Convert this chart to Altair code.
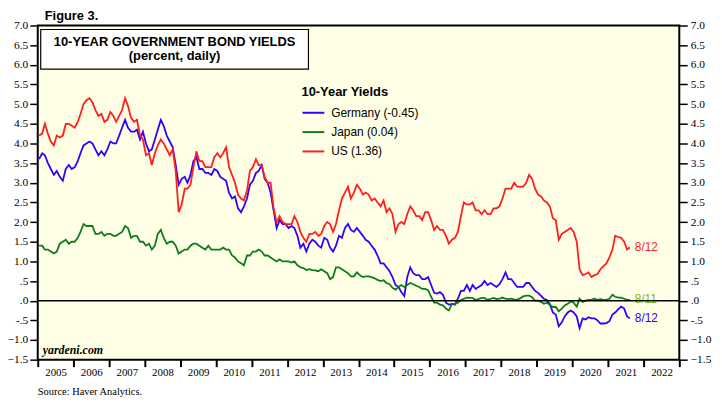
import altair as alt
import pandas as pd

# ---- data (monthly readings, last point = latest daily value) ----
us = [
    4.20, 4.25, 4.50, 4.25, 4.05, 3.95, 4.20, 4.15, 4.20, 4.50, 4.50, 4.45,   # 2005
    4.40, 4.55, 4.75, 5.00, 5.10, 5.15, 5.05, 4.85, 4.70, 4.75, 4.55, 4.60,   # 2006
    4.80, 4.70, 4.55, 4.70, 4.85, 5.15, 4.95, 4.65, 4.55, 4.60, 4.20, 4.10,   # 2007
    3.70, 3.75, 3.45, 3.75, 3.95, 4.10, 4.00, 3.85, 3.70, 3.85, 3.30, 2.25,   # 2008
    2.45, 2.85, 2.85, 2.95, 3.40, 3.80, 3.55, 3.55, 3.40, 3.40, 3.40, 3.65,   # 2009
    3.75, 3.65, 3.75, 3.90, 3.40, 3.20, 3.00, 2.70, 2.60, 2.55, 2.80, 3.30,   # 2010
    3.40, 3.60, 3.45, 3.45, 3.15, 3.00, 3.00, 2.35, 2.00, 2.15, 2.00, 1.95,   # 2011
    1.95, 1.95, 2.15, 2.00, 1.75, 1.60, 1.50, 1.70, 1.70, 1.75, 1.65, 1.70,   # 2012
    1.90, 2.00, 1.95, 1.75, 1.95, 2.30, 2.60, 2.75, 2.90, 2.60, 2.75, 2.95,   # 2013
    2.85, 2.70, 2.75, 2.70, 2.55, 2.60, 2.50, 2.40, 2.55, 2.25, 2.35, 2.20,   # 2014
    1.75, 1.95, 2.00, 1.95, 2.20, 2.40, 2.30, 2.15, 2.15, 2.05, 2.25, 2.25,   # 2015
    2.05, 1.80, 1.90, 1.80, 1.80, 1.65, 1.45, 1.55, 1.60, 1.75, 2.15, 2.50,   # 2016
    2.45, 2.45, 2.50, 2.30, 2.30, 2.20, 2.30, 2.20, 2.20, 2.35, 2.35, 2.40,   # 2017
    2.60, 2.85, 2.85, 2.85, 3.00, 2.90, 2.90, 2.90, 3.00, 3.20, 3.10, 2.85,   # 2018
    2.70, 2.65, 2.55, 2.50, 2.40, 2.10, 2.05, 1.55, 1.70, 1.75, 1.80, 1.85,   # 2019
    1.75, 1.50, 0.80, 0.65, 0.68, 0.72, 0.60, 0.65, 0.68, 0.80, 0.88, 0.95,   # 2020
    1.10, 1.30, 1.65, 1.62, 1.60, 1.50, 1.30,                                 # 2021
    1.36,
]
germany = [
    3.60, 3.75, 3.70, 3.50, 3.35, 3.20, 3.30, 3.15, 3.05, 3.35, 3.45, 3.35,   # 2005
    3.40, 3.55, 3.75, 3.95, 4.00, 4.05, 4.00, 3.85, 3.70, 3.80, 3.70, 3.85,   # 2006
    4.05, 4.00, 4.00, 4.20, 4.40, 4.60, 4.40, 4.30, 4.30, 4.35, 4.10, 4.30,   # 2007
    4.00, 3.80, 3.85, 4.10, 4.35, 4.60, 4.45, 4.20, 4.05, 3.90, 3.45, 2.95,   # 2008
    3.10, 3.15, 3.00, 3.20, 3.55, 3.65, 3.35, 3.35, 3.25, 3.25, 3.20, 3.35,   # 2009
    3.30, 3.15, 3.10, 3.05, 2.75, 2.60, 2.65, 2.35, 2.25, 2.40, 2.60, 2.95,   # 2010
    3.05, 3.25, 3.30, 3.45, 3.10, 3.00, 2.75, 2.30, 1.85, 2.05, 1.95, 1.95,   # 2011
    1.85, 1.90, 1.85, 1.65, 1.35, 1.45, 1.25, 1.45, 1.55, 1.50, 1.40, 1.35,   # 2012
    1.60, 1.55, 1.35, 1.25, 1.40, 1.65, 1.60, 1.85, 1.95, 1.80, 1.75, 1.85,   # 2013
    1.75, 1.65, 1.55, 1.50, 1.40, 1.30, 1.15, 0.95, 0.95, 0.85, 0.75, 0.60,   # 2014
    0.40, 0.35, 0.22, 0.12, 0.60, 0.85, 0.70, 0.65, 0.65, 0.55, 0.55, 0.60,   # 2015
    0.40, 0.20, 0.18, 0.22, 0.15, -0.05, -0.10, -0.08, -0.10, 0.05, 0.25, 0.25,  # 2016
    0.40, 0.25, 0.40, 0.30, 0.35, 0.40, 0.50, 0.40, 0.45, 0.40, 0.35, 0.42,   # 2017
    0.55, 0.72, 0.55, 0.55, 0.45, 0.35, 0.35, 0.35, 0.45, 0.45, 0.35, 0.25,   # 2018
    0.20, 0.12, 0.05, 0.02, -0.08, -0.30, -0.35, -0.65, -0.55, -0.40, -0.30, -0.25,  # 2019
    -0.30, -0.40, -0.70, -0.45, -0.48, -0.42, -0.45, -0.45, -0.50, -0.58, -0.58, -0.57,  # 2020
    -0.52, -0.35, -0.30, -0.22, -0.15, -0.20, -0.40,                          # 2021
    -0.45,
]
japan = [
    1.40, 1.40, 1.30, 1.30, 1.25, 1.20, 1.25, 1.45, 1.50, 1.55, 1.45, 1.50,   # 2005
    1.50, 1.60, 1.75, 1.95, 1.90, 1.90, 1.90, 1.70, 1.70, 1.75, 1.65, 1.70,   # 2006
    1.70, 1.65, 1.65, 1.70, 1.75, 1.90, 1.85, 1.60, 1.65, 1.65, 1.50, 1.50,   # 2007
    1.40, 1.45, 1.30, 1.40, 1.70, 1.80, 1.60, 1.45, 1.50, 1.50, 1.40, 1.20,   # 2008
    1.25, 1.30, 1.30, 1.40, 1.45, 1.45, 1.40, 1.35, 1.30, 1.40, 1.30, 1.30,   # 2009
    1.30, 1.30, 1.35, 1.30, 1.30, 1.15, 1.10, 1.00, 0.95, 0.90, 1.15, 1.15,   # 2010
    1.25, 1.25, 1.30, 1.25, 1.15, 1.15, 1.10, 1.05, 1.00, 1.05, 1.00, 1.00,   # 2011
    1.00, 0.97, 1.00, 0.90, 0.85, 0.83, 0.78, 0.80, 0.78, 0.77, 0.75, 0.80,   # 2012
    0.75, 0.70, 0.55, 0.60, 0.85, 0.85, 0.80, 0.75, 0.70, 0.62, 0.62, 0.72,   # 2013
    0.65, 0.60, 0.62, 0.62, 0.60, 0.57, 0.53, 0.50, 0.52, 0.45, 0.42, 0.33,   # 2014
    0.28, 0.35, 0.40, 0.35, 0.40, 0.45, 0.42, 0.38, 0.35, 0.30, 0.30, 0.27,   # 2015
    0.10, -0.05, -0.05, -0.10, -0.12, -0.20, -0.25, -0.08, -0.08, -0.05, 0.02, 0.05,  # 2016
    0.08, 0.07, 0.07, 0.02, 0.04, 0.07, 0.07, 0.02, 0.05, 0.07, 0.04, 0.05,   # 2017
    0.08, 0.05, 0.04, 0.05, 0.03, 0.03, 0.06, 0.11, 0.13, 0.13, 0.09, 0.00,   # 2018
    0.00, -0.03, -0.08, -0.05, -0.10, -0.16, -0.16, -0.27, -0.20, -0.12, -0.08, -0.02,  # 2019
    -0.05, -0.15, 0.05, -0.03, 0.00, 0.02, 0.03, 0.05, 0.02, 0.04, 0.02, 0.02,  # 2020
    0.05, 0.15, 0.10, 0.08, 0.08, 0.05, 0.02,                                 # 2021
    0.03,
]

month_dates = [f"{y}-{m:02d}-15" for y in range(2005, 2022) for m in range(1, 13)][:199]
last_date = {"US (1.36)": "2021-08-12", "Germany (-0.45)": "2021-08-12", "Japan (0.04)": "2021-08-11"}

series_names = ["Germany (-0.45)", "Japan (0.04)", "US (1.36)"]
series_values = {"Germany (-0.45)": germany, "Japan (0.04)": japan, "US (1.36)": us}
line_colors = ["#3300FF", "#0B7D1A", "#FF1E1E"]
end_labels = ["8/12", "8/11", "8/12"]
end_label_colors = ["#3300FF", "#7DB51A", "#FF1E1E"]
year_ticks = list(range(2005, 2024))
title_line1 = "10-YEAR GOVERNMENT BOND YIELDS"
title_line2 = "(percent, daily)"

rows = []
for name in series_names:
    dates = month_dates + [last_date[name]]
    for d, v in zip(dates, series_values[name]):
        rows.append({"date": d, "value": v, "series": name})
df = pd.DataFrame(rows)

ends = pd.DataFrame({
    "date": [last_date[n] for n in series_names],
    "value": [series_values[n][-1] for n in series_names],
    "label": end_labels,
    "lc": end_label_colors,
})

# ---- scales / axes ----
yscale = alt.Scale(domain=[-1.5, 7.0], nice=False, zero=False)
xscale = alt.Scale(domain=[alt.DateTime(year=2005, month=1, date=1),
                           alt.DateTime(year=2023, month=1, date=1)], nice=False)

label_expr = ("datum.value == 0 ? '.0' : datum.value == 0.5 ? '.5' : "
              "datum.value == -0.5 ? '-.5' : format(datum.value, '.1f')")

left_axis = alt.Axis(orient="left", values=[x / 2 for x in range(-3, 15)], labelExpr=label_expr,
                     title=None, grid=False, domain=False, tickSize=8, tickColor="black",
                     tickWidth=1.5, labelPadding=2, labelFont="Liberation Serif",
                     labelFontSize=11.5, labelColor="black")
right_axis = alt.Axis(orient="right", values=[x / 2 for x in range(-3, 15)], labelExpr=label_expr,
                      title=None, grid=False, domain=False, tickSize=8, tickColor="black",
                      tickWidth=1.5, labelPadding=3, labelFont="Liberation Serif",
                      labelFontSize=11.5, labelColor="black")
x_axis = alt.Axis(values=[alt.DateTime(year=y, month=1, date=1) for y in year_ticks],
                  labelExpr="year(datum.value) == 2023 ? '' : timeFormat(datum.value, '%Y')",
                  labelOffset=18, labelFlush=False, labelOverlap=False, title=None, grid=False,
                  domain=False, tickSize=7, tickWidth=2, tickColor="black", labelPadding=0,
                  labelFont="Liberation Serif", labelFontSize=11, labelColor="black")

X = alt.X("date:T", scale=xscale, axis=x_axis)
YL = alt.Y("value:Q", scale=yscale, axis=left_axis)

lines = alt.Chart(df).mark_line(strokeWidth=1.8).encode(
    x=X,
    y=YL,
    color=alt.Color("series:N", sort=series_names,
                    scale=alt.Scale(domain=series_names, range=line_colors),
                    legend=alt.Legend(title="10-Year Yields", orient="none", legendX=266,
                                      legendY=61, padding=0, titleFont="Liberation Sans",
                                      titleFontSize=13, titleFontWeight="bold", titleColor="black",
                                      titlePadding=2, labelFont="Liberation Sans", labelFontSize=12,
                                      labelColor="black", symbolType="stroke", symbolSize=484,
                                      symbolStrokeWidth=2, labelOffset=6, rowPadding=1.5)),
)

end_text = alt.Chart(ends).mark_text(align="left", baseline="middle", dx=5,
                                     font="Liberation Sans", fontSize=12).encode(
    x=X, y=YL, text="label:N", color=alt.Color("lc:N", scale=None))

one = pd.DataFrame({"k": [0]})

title_box = alt.Chart(one).mark_rect(
    fill="white", stroke="black", strokeWidth=1.2).encode(
    x=alt.value(3), x2=alt.value(273), y=alt.value(4), y2=alt.value(44))

title_text1 = alt.Chart(one).mark_text(
    font="Liberation Sans", fontSize=13, fontWeight="bold", color="black",
    align="center", baseline="middle", text=title_line1).encode(
    x=alt.value(138), y=alt.value(17))

title_text2 = alt.Chart(one).mark_text(
    font="Liberation Sans", fontSize=13, fontWeight="bold", color="black",
    align="center", baseline="middle", text=title_line2).encode(
    x=alt.value(138), y=alt.value(31))

fig_label = alt.Chart(one).mark_text(
    font="Liberation Sans", fontSize=13, fontWeight="bold", color="black",
    align="left", baseline="top", text="Figure 3.").encode(x=alt.value(7), y=alt.value(-15.5))

yardeni = alt.Chart(one).mark_text(
    font="Liberation Serif", fontSize=12, fontWeight="bold", fontStyle="italic", color="black",
    align="left", baseline="alphabetic", text="yardeni.com").encode(x=alt.value(5), y=alt.value(331))

source = alt.Chart(one).mark_text(
    font="Liberation Serif", fontSize=10.5, color="black",
    align="left", baseline="middle", text="Source: Haver Analytics.").encode(
    x=alt.value(0), y=alt.value(370))

left_group = alt.layer(lines, end_text)

zero_rule = alt.Chart(pd.DataFrame({"v": [0.0]})).mark_rule(color="black", strokeWidth=1.5).encode(
    y=alt.Y("v:Q", scale=yscale, axis=right_axis))

chart = alt.layer(left_group, zero_rule, title_box, title_text1, title_text2, fig_label,
                  yardeni, source).resolve_scale(
    y="independent"
).properties(
    width=647, height=337,
    autosize=alt.AutoSizeParams(type="none"),
    padding={"left": 30, "top": 16, "right": 35, "bottom": 38},
    background="white",
).configure_view(
    fill="#FFFFE6", stroke="black", strokeWidth=2
)

chart.save("out.html", embed_options={"renderer": "svg", "actions": False})
